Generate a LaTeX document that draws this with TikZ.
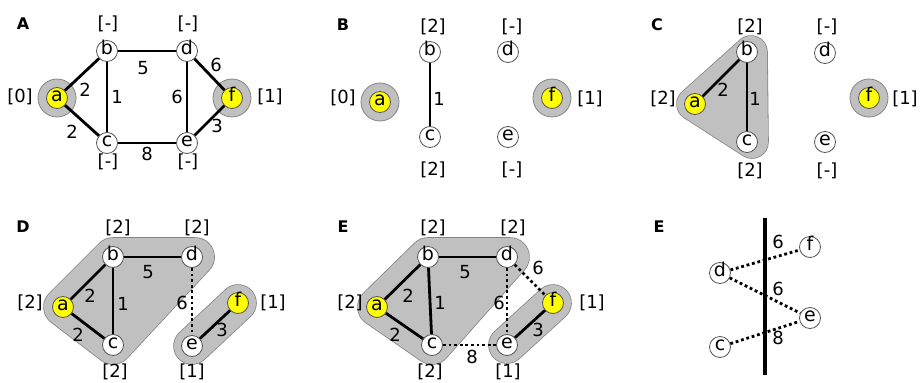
\documentclass[tikz,border=0pt]{standalone}
\usepackage{fontspec}
\setmainfont{DejaVu Sans}
\pgfdeclarelayer{bg}
\pgfsetlayers{bg,main}
\definecolor{nodeline}{HTML}{555555}
\definecolor{hlyellow}{HTML}{FFFF00}
\definecolor{blobfill}{HTML}{C0C0C0}
\definecolor{blobline}{HTML}{858585}
\tikzset{
  vert/.style={circle, draw=nodeline, line width=0.8pt, fill=white,
    minimum size=21pt, inner sep=0pt, text height=0.62em, text depth=0pt,
    font=\fontsize{19}{19}\selectfont},
  src/.style={vert, fill=hlyellow},
  halo/.style={circle, draw=blobline, line width=0.8pt, fill=blobfill,
    minimum size=38pt, inner sep=0pt},
  edge/.style={line width=2.8pt},
  dotedge/.style={line width=2.8pt, dash pattern=on 2.8pt off 2.8pt},
  wt/.style={inner sep=0pt, font=\fontsize{18}{18}\selectfont},
  dist/.style={inner sep=0pt, font=\fontsize{18}{18}\selectfont},
  tag/.style={inner sep=0pt, font=\fontsize{16}{16}\selectfont\bfseries},
  blobedge/.style={line width=#1, line join=round, line cap=round, draw=blobline},
  blobbody/.style={line width=#1, line join=round, line cap=round, draw=blobfill, fill=blobfill},
}
\begin{document}
\begin{tikzpicture}[x=1pt, y=-1pt]
\useasboundingbox (0,0) rectangle (922,383);

% ---------------- A: the weighted graph ----------------
\node[tag] (tagA) at (23,24) {A};
\node[src]  (aA) at (57,98)  {a};
\node[vert] (bA) at (107,51) {b};
\node[vert] (dA) at (187,51) {d};
\node[vert] (cA) at (107,143) {c};
\node[vert] (eA) at (187,143) {e};
\node[src]  (fA) at (232,98) {f};
\begin{pgfonlayer}{bg}
  \node[halo] (hAa) at (aA) {};
  \node[halo] (hAf) at (fA) {};
\end{pgfonlayer}
\draw[edge] (aA) -- (bA) node[wt] at (85,90) {2};
\draw[edge] (aA) -- (cA) node[wt] at (72,132) {2};
\draw[edge] (bA) -- (cA) node[wt] at (117,97) {1};
\draw[edge] (bA) -- (dA) node[wt] at (143,68) {5};
\draw[edge] (cA) -- (eA) node[wt] at (147,154) {8};
\draw[edge] (dA) -- (eA) node[wt] at (177,97) {6};
\draw[edge] (dA) -- (fA) node[wt] at (216,65) {6};
\draw[edge] (eA) -- (fA) node[wt] at (217,126) {3};
\node[dist] (lAb) at (108,24) {[-]};
\node[dist] (lAd) at (188,24) {[-]};
\node[dist] (lAc) at (108,162) {[-]};
\node[dist] (lAe) at (188,162) {[-]};
\node[dist] (lAa) at (20,97) {[0]};
\node[dist] (lAf) at (270,97) {[1]};

% ---------------- B ----------------
\node[tag] (tagB) at (343,25) {B};
\node[src]  (aB) at (380,102) {a};
\node[vert] (bB) at (430,52) {b};
\node[vert] (cB) at (430,137) {c};
\node[vert] (dB) at (508,52) {d};
\node[vert] (eB) at (508,137) {e};
\node[src]  (fB) at (552,98) {f};
\begin{pgfonlayer}{bg}
  \node[halo] (hBa) at (aB) {};
  \node[halo] (hBf) at (fB) {};
\end{pgfonlayer}
\draw[edge] (bB) -- (cB) node[wt] at (439,99) {1};
\node[dist] (lBb) at (433,27) {[2]};
\node[dist] (lBd) at (512,27) {[-]};
\node[dist] (lBc) at (433,170) {[2]};
\node[dist] (lBe) at (512,170) {[-]};
\node[dist] (lBa) at (343,98) {[0]};
\node[dist] (lBf) at (590,99) {[1]};

% ---------------- C ----------------
\node[tag] (tagC) at (657,25) {C};
\node[src]  (aC) at (695,104) {a};
\node[vert] (bC) at (747,52) {b};
\node[vert] (cC) at (747,142) {c};
\node[vert] (dC) at (825,53) {d};
\node[vert] (eC) at (825,142) {e};
\node[src]  (fC) at (869,98) {f};
\begin{pgfonlayer}{bg}
  \node[halo] (hCf) at (fC) {};
  \draw[blobedge=33.6pt] ([xshift=-2pt]aC.center) -- ([xshift=4pt]bC.center) -- ([xshift=5pt]cC.center) -- cycle;
  \draw[blobbody=32pt] ([xshift=-2pt]aC.center) -- ([xshift=4pt]bC.center) -- ([xshift=5pt]cC.center) -- cycle;
\end{pgfonlayer}
\draw[edge] (aC) -- (bC) node[wt] at (723,90) {2};
\draw[edge] (bC) -- (cC) node[wt] at (755,99) {1};
\node[dist] (lCb) at (750,27) {[2]};
\node[dist] (lCd) at (827,27) {[-]};
\node[dist] (lCc) at (750,171) {[2]};
\node[dist] (lCe) at (827,171) {[-]};
\node[dist] (lCa) at (663,99) {[2]};
\node[dist] (lCf) at (905,99) {[1]};

% ---------------- D ----------------
\node[tag] (tagD) at (23,227) {D};
\node[src]  (aD) at (63,307) {a};
\node[vert] (bD) at (113,257) {b};
\node[vert] (dD) at (192,257) {d};
\node[vert] (cD) at (113,345) {c};
\node[vert] (eD) at (192,346) {e};
\node[src]  (fD) at (238,303) {f};
\begin{pgfonlayer}{bg}
  \draw[blobedge=39.6pt] (aD.center) -- (bD.center) -- ([xshift=3pt]dD.center) -- (cD.center) -- cycle;
  \draw[blobbody=38pt] (aD.center) -- (bD.center) -- ([xshift=3pt]dD.center) -- (cD.center) -- cycle;
  \draw[blobedge=37.6pt] (eD.center) -- (fD.center);
  \draw[blobbody=36pt] (eD.center) -- (fD.center);
\end{pgfonlayer}
\draw[edge] (aD) -- (bD) node[wt] at (90,296) {2};
\draw[edge] (aD) -- (cD) node[wt] at (78,335) {2};
\draw[edge] (bD) -- (cD) node[wt] at (123,304) {1};
\draw[edge] (bD) -- (dD) node[wt] at (148,272) {5};
\draw[dotedge] (dD) -- (eD) node[wt] at (182,303) {6};
\draw[edge] (eD) -- (fD) node[wt] at (222,330) {3};
\node[dist] (lDb) at (118,228) {[2]};
\node[dist] (lDd) at (197,228) {[2]};
\node[dist] (lDc) at (115,372) {[2]};
\node[dist] (lDe) at (192,372) {[1]};
\node[dist] (lDa) at (30,303) {[2]};
\node[dist] (lDf) at (273,303) {[1]};

% ---------------- E ----------------
\node[tag] (tagE) at (343,227) {E};
\node[src]  (aE) at (377,307) {a};
\node[vert] (bE) at (428,257) {b};
\node[vert] (dE) at (507,257) {d};
\node[vert] (cE) at (432,345) {c};
\node[vert] (eE) at (507,345) {e};
\node[src]  (fE) at (553,303) {f};
\begin{pgfonlayer}{bg}
  \draw[blobedge=39.6pt] (aE.center) -- (bE.center) -- ([xshift=3pt]dE.center) -- (cE.center) -- cycle;
  \draw[blobbody=38pt] (aE.center) -- (bE.center) -- ([xshift=3pt]dE.center) -- (cE.center) -- cycle;
  \draw[blobedge=37.6pt] (eE.center) -- (fE.center);
  \draw[blobbody=36pt] (eE.center) -- (fE.center);
\end{pgfonlayer}
\draw[edge] (aE) -- (bE) node[wt] at (408,296) {2};
\draw[edge] (aE) -- (cE) node[wt] at (395,335) {2};
\draw[edge] (bE) -- (cE) node[wt] at (440,303) {1};
\draw[edge] (bE) -- (dE) node[wt] at (465,272) {5};
\draw[dotedge] (dE) -- (eE) node[wt] at (499,303) {6};
\draw[dotedge] (dE) -- (fE) node[wt] at (538,268) {6};
\draw[dotedge] (cE) -- (eE) node[wt] at (472,357) {8};
\draw[edge] (eE) -- (fE) node[wt] at (538,330) {3};
\node[dist] (lEb) at (433,228) {[2]};
\node[dist] (lEd) at (513,228) {[2]};
\node[dist] (lEc) at (430,372) {[2]};
\node[dist] (lEe) at (508,372) {[1]};
\node[dist] (lEa) at (350,303) {[2]};
\node[dist] (lEf) at (592,303) {[1]};

% ---------------- E: the cut ----------------
\node[tag] (tagF) at (659,227) {E};
\coordinate (cutTop) at (765,218);
\coordinate (cutBot) at (765,375);
\node[vert] (fF) at (810,247) {f};
\node[vert] (dF) at (720,273) {d};
\node[vert] (eF) at (810,318) {e};
\node[vert] (cF) at (720,347) {c};
\draw[dotedge] (dF) -- (fF) node[wt] at (778,242) {6};
\draw[dotedge] (dF) -- (eF) node[wt] at (778,289) {6};
\draw[dotedge] (cF) -- (eF) node[wt] at (778,338) {8};
\draw[line width=3.2pt] (cutTop) -- (cutBot);
\end{tikzpicture}
\end{document}
